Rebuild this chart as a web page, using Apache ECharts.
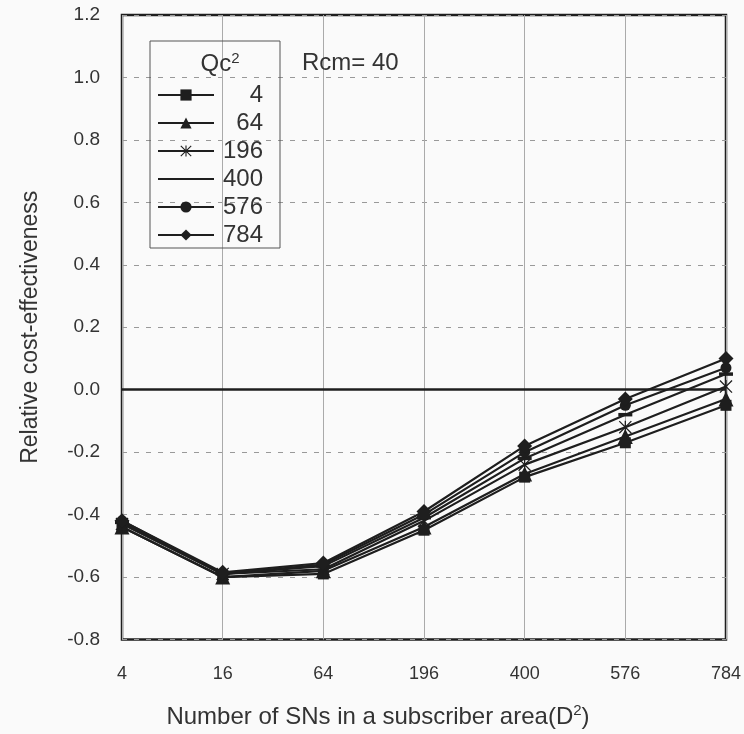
<!DOCTYPE html>
<html>
<head>
<meta charset="utf-8">
<script src="https://cdn.jsdelivr.net/npm/echarts@6/dist/echarts.min.js"></script>
<style>
  html, body { margin: 0; padding: 0; background: #fafafa; }
  #myLine { width: 744px; height: 734px; }
</style>
</head>
<body>
<div id="myLine"></div>
<script>
// x categories (number of SNs, D^2)
var categories = ["4", "16", "64", "196", "400", "576", "784"];
// relative cost-effectiveness for each Qc^2
var qc4 = [-0.44, -0.60, -0.59, -0.45, -0.28, -0.17, -0.05];
var qc64 = [-0.44, -0.60, -0.58, -0.44, -0.27, -0.15, -0.03];
var qc196 = [-0.43, -0.59, -0.575, -0.42, -0.24, -0.12, 0.01];
var qc400 = [-0.425, -0.59, -0.565, -0.41, -0.22, -0.08, 0.05];
var qc576 = [-0.42, -0.59, -0.56, -0.40, -0.20, -0.05, 0.07];
var qc784 = [-0.42, -0.585, -0.555, -0.39, -0.18, -0.03, 0.10];
var yTicks = { min: -0.8, max: 1.2, step: 0.2 };

var font = "Liberation Sans, Arial, sans-serif";
var ink = "#1e1e1e";

// asterisk and dash markers
var star = "path://M9,0 L11,0 L11,20 L9,20 Z M0,1.4 L1.4,0 L20,18.6 L18.6,20 Z M18.6,0 L20,1.4 L1.4,20 L0,18.6 Z";
var dash = "path://M0,0 L16,0 L16,4 L0,4 Z";

function mkSeries(name, data, symbol, size) {
  return {
    name: name,
    type: "line",
    data: data,
    symbol: symbol,
    symbolSize: size,
    symbolKeepAspect: true,
    lineStyle: { color: ink, width: 2.2 },
    itemStyle: { color: ink },
    emphasis: { disabled: true }
  };
}

var series = [
  mkSeries("4", qc4, "rect", 11),
  mkSeries("64", qc64, "triangle", 15),
  mkSeries("196", qc196, star, 13),
  mkSeries("400", qc400, dash, 14),
  mkSeries("576", qc576, "circle", 11),
  mkSeries("784", qc784, "diamond", 15)
];
// solid zero line
series[0].markLine = {
  silent: true,
  symbol: ["none", "none"],
  label: { show: false },
  lineStyle: { color: ink, width: 2.5, type: "solid" },
  data: [{ yAxis: 0 }]
};

var option = {
  animation: false,
  backgroundColor: "#fafafa",
  textStyle: { fontFamily: font },
  title: [
    {
      text: "Qc{sup|2}",
      left: 215,
      top: 46,
      textAlign: "center",
      textStyle: {
        fontFamily: font, fontSize: 24, fontWeight: "normal", color: "#333",
        rich: { sup: { fontSize: 15, verticalAlign: "top", padding: [0, 0, 12, 0], color: "#333" } }
      }
    },
    {
      text: "Rcm= 40",
      left: 297,
      top: 46,
      textStyle: { fontFamily: font, fontSize: 24, fontWeight: "normal", color: "#333" }
    }
  ],
  legend: {
    orient: "vertical",
    left: 150,
    top: 41,
    padding: [42, 17, 1, 7],
    itemWidth: 56,
    itemHeight: 14,
    itemGap: 4,
    borderColor: "#555",
    borderWidth: 1,
    selectedMode: false,
    data: ["4", "64", "196", { name: "400", itemStyle: { opacity: 0 } }, "576", "784"],
    formatter: function (name) { return "{r|" + name + "}"; },
    textStyle: {
      fontFamily: font, fontSize: 24, color: "#333", lineHeight: 24,
      rich: { r: { width: 44, align: "right", fontSize: 24, color: "#333", fontFamily: font } }
    }
  },
  grid: {
    left: 122,
    top: 15,
    right: 17,
    bottom: 92,
    show: true,
    borderColor: ink,
    borderWidth: 2.5
  },
  xAxis: {
    type: "category",
    data: categories,
    boundaryGap: false,
    axisLine: { show: false },
    axisTick: { show: false },
    axisLabel: { color: "#333", fontSize: 18, margin: 26 },
    splitLine: { show: true, lineStyle: { color: "#aaa", width: 1 } },
    name: "Number of SNs in a subscriber area(D{sup|2})",
    nameLocation: "middle",
    nameGap: 64,
    nameTextStyle: {
      fontFamily: font, fontSize: 24, color: "#333", padding: [0, 92, 0, 0],
      rich: { sup: { fontSize: 15, verticalAlign: "top", padding: [0, 0, 12, 0], color: "#333" } }
    }
  },
  yAxis: {
    type: "value",
    min: yTicks.min,
    max: yTicks.max,
    interval: yTicks.step,
    axisLine: { show: false },
    axisTick: { show: false },
    axisLabel: {
      color: "#333", fontSize: 19, margin: 22,
      formatter: function (v) { return v.toFixed(1); }
    },
    splitLine: { show: true, lineStyle: { color: "#999", width: 1, type: [5, 7] } },
    name: "Relative cost-effectiveness",
    nameLocation: "middle",
    nameRotate: 90,
    nameGap: 80,
    nameTextStyle: { fontFamily: font, fontSize: 23, color: "#333" }
  },
  series: series
};

var myLine = echarts.init(document.getElementById("myLine"));
myLine.setOption(option);
</script>
</body>
</html>
